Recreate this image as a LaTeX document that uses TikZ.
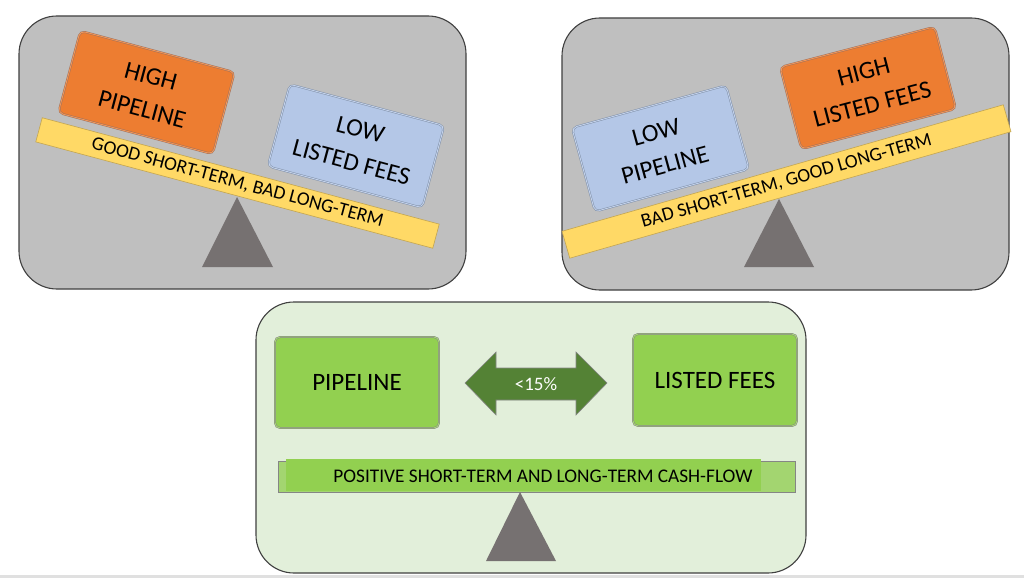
\documentclass[tikz,border=0pt]{standalone}
\usepackage{fontspec}
\setmainfont{Carlito}
\definecolor{panelgray}{HTML}{BFBFBF}
\definecolor{panelborder}{HTML}{404040}
\definecolor{orangebox}{HTML}{ED7D31}
\definecolor{orangeline}{HTML}{A0705A}
\definecolor{bluebox}{HTML}{B4C7E7}
\definecolor{blueline}{HTML}{8090A8}
\definecolor{beamyellow}{HTML}{FFD966}
\definecolor{beamline}{HTML}{C2A552}
\definecolor{greenpanel}{HTML}{E2EFDA}
\definecolor{greenbox}{HTML}{92D050}
\definecolor{greenouter}{HTML}{A3D570}
\definecolor{greyline}{HTML}{858585}
\definecolor{arrowgreen}{HTML}{548235}
\definecolor{fulcrum}{HTML}{767171}
\definecolor{bottomline}{HTML}{E0E0E0}
\tikzset{
  panel/.style={draw=panelborder, line width=1.1pt, rounded corners=38pt},
  card/.style={rectangle, rounded corners=5pt, minimum width=160pt, minimum height=85pt,
    inner sep=0pt, align=center, font=\fontsize{25}{34}\selectfont, text=black,
    line width=0.5pt, double distance=0.9pt},
  orangecard/.style={card, fill=orangebox, draw=orangeline, double=orangebox!80!white},
  bluecard/.style={card, fill=bluebox, draw=blueline, double=bluebox!80!white},
  beam/.style={rectangle, inner sep=0pt, fill=beamyellow, draw=beamline, line width=0.6pt,
    font=\fontsize{19.3}{22}\selectfont, text=black},
  greencard/.style={rectangle, rounded corners=5pt, minimum width=164pt, minimum height=91pt,
    inner sep=0pt, fill=greenbox, draw=greyline, line width=0.5pt, double=greenbox!80!white,
    double distance=0.9pt, font=\fontsize{25}{30}\selectfont, text=black},
  fulc/.style={fill=fulcrum},
}
\begin{document}
\begin{tikzpicture}[x=1pt, y=-1pt]
\useasboundingbox (0,0) rectangle (1024,578);
\fill[white] (0,0) rectangle (1024,578);
\fill[bottomline] (0,575) rectangle (1024,578);

% ---------- Panel 1 ----------
\draw[panel, fill=panelgray] (19,16) rectangle (466,289);
\fill[fulc] (237,197) -- (273,267) -- (202,267) -- cycle;
\node[beam, minimum width=411pt, minimum height=25pt, rotate=-15] (beamA) at (237.5,183)
  {GOOD SHORT-TERM, BAD LONG-TERM};
\node[orangecard, rotate=-15] (hp) at (146.5,92.5) {HIGH\\PIPELINE};
\node[bluecard, rotate=-15] (llf) at (356,146) {LOW\\LISTED FEES};

% ---------- Panel 2 ----------
\draw[panel, fill=panelgray] (562,18) rectangle (1009,290);
\fill[fulc] (779,199) -- (814,267) -- (744,267) -- cycle;
\node[beam, minimum width=459pt, minimum height=28pt, rotate=16] (beamB) at (786.5,181.5)
  {BAD SHORT-TERM, GOOD LONG-TERM};
\node[bluecard, minimum height=87pt, rotate=15.4] (lp) at (660.5,148.5) {LOW\\PIPELINE};
\node[orangecard, rotate=14.6] (hlf) at (868,88) {HIGH\\LISTED FEES};

% ---------- Panel 3 ----------
\draw[panel, fill=greenpanel] (256,302) rectangle (806,573);
\node[greencard] (pipe) at (357,382.5) {PIPELINE};
\node[greencard, minimum height=92pt] (fees) at (715,380) {LISTED FEES};
\fill[arrowgreen, draw=greyline, line width=0.6pt]
  (465,383) -- (496,352) -- (496,368) -- (576,368) -- (576,352) -- (607,383)
  -- (576,415) -- (576,400) -- (496,400) -- (496,415) -- cycle;
\node[text=white, font=\fontsize{19}{22}\selectfont, inner sep=0pt] (ratio) at (536,384) {<15\%};
\draw[fill=greenouter, draw=greyline, line width=0.6pt] (278,461) rectangle (795,492);
\fill[greenbox] (286,458.5) rectangle (761,491);
\node[font=\fontsize{19.3}{22}\selectfont, text=black, inner sep=0pt] (cash) at (543,476)
  {POSITIVE SHORT-TERM AND LONG-TERM CASH-FLOW};
\fill[fulc] (520,492) -- (556,561) -- (486,561) -- cycle;
\end{tikzpicture}
\end{document}
